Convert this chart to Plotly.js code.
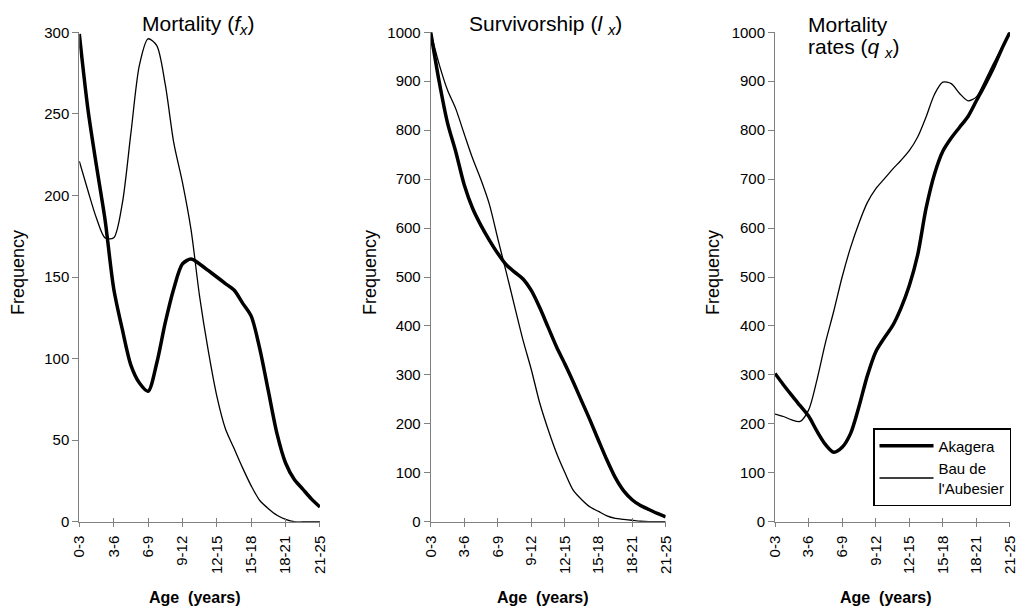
<!DOCTYPE html>
<html>
<head>
<meta charset="utf-8">
<script src="https://cdn.plot.ly/plotly-3.0.1.min.js"></script>
<style>
html,body{margin:0;padding:0;background:#fff;}
#chart{width:1018px;height:609px;}
</style>
</head>
<body>
<div id="chart"></div>
<script>
// Age classes (tick labels) and the age-class index grid the curves are sampled on
var ageClasses = ["0-3","3-6","6-9","9-12","12-15","15-18","18-21","21-25"];
var ageIndex = [0,0.25,0.5,0.75,1,1.25,1.5,1.75,2,2.25,2.5,2.75,3,3.25,3.5,3.75,4,4.25,4.5,4.75,5,5.25,5.5,5.75,6,6.25,6.5,6.75,7];

// Mortality (f_x)
var fxAkagera = [299,253,218,185,143,118,96,85,80,97,122,143,158,161,158,154,150,146,142,134,126,106,80,54,36,26,20,14,9];
var fxBau     = [221,203,186,174,174,195,238,280,296,292,268,232,208,179,138,105,77,57,45,33,22,13,8,4,1.5,0,0,0,0];

// Survivorship (l_x)
var lxAkagera = [1000,900,815,755,688,640,605,575,548,525,510,496,472,437,397,357,322,285,246,207,166,126,90,63,45,33,25,17,10];
var lxBau     = [1000,935,882,843,792,742,698,648,578,510,440,371,310,242,188,140,100,64,45,30,21,12,7,5,3,1,0,0,0];

// Mortality rates (q_x)
var qxAkagera = [303,280,258,237,216,185,158,142,152,180,235,298,347,375,400,436,482,545,640,710,757,784,806,828,860,892,926,965,1000];
var qxBau     = [220,215,208,205,228,290,365,430,500,560,610,652,680,700,720,738,758,786,827,873,898,895,875,860,868,900,935,968,1000];

var seriesNames = ["Akagera","Bau de<br>l'Aubesier"];

var thick = {color:'#000', width:3.5, shape:'spline', smoothing:0.8};
var thin  = {color:'#000', width:1.3, shape:'spline', smoothing:0.8};

var panels = [
  {ak: fxAkagera, bau: fxBau, xa:'x',  ya:'y'},
  {ak: lxAkagera, bau: lxBau, xa:'x2', ya:'y2'},
  {ak: qxAkagera, bau: qxBau, xa:'x3', ya:'y3'}
];

var data = [];
panels.forEach(function(p, i){
  data.push({x: ageIndex, y: p.ak, xaxis:p.xa, yaxis:p.ya, mode:'lines', line:thick,
             name: seriesNames[0], showlegend: i===2, legendrank:1, hoverinfo:'skip'});
  data.push({x: ageIndex, y: p.bau, xaxis:p.xa, yaxis:p.ya, mode:'lines', line:thin,
             name: seriesNames[1], showlegend: i===2, legendrank:2, hoverinfo:'skip'});
});
// invisible traces for overlay tick axes (upper half of the cross ticks)
['x4','x5','x6'].forEach(function(xa, i){
  data.push({x:[], y:[], xaxis:xa, yaxis:['y','y2','y3'][i], mode:'lines', showlegend:false, hoverinfo:'skip'});
});

var tickVals = ageClasses.map(function(_, i){ return i; });
var F = 'Liberation Sans, Arial, sans-serif';
var gray = '#808080';

function xAxis(domain, extra){
  var a = {domain: domain, range:[0,7], tickmode:'array', tickvals: tickVals, ticktext: ageClasses,
    tickangle:-90, ticks:'outside', ticklen:4, tickcolor:gray, tickwidth:1, ticklabelstandoff:3,
    showline:true, linecolor:gray, linewidth:1, showgrid:false, zeroline:false,
    tickfont:{family:F, size:15, color:'#000'}, fixedrange:true};
  for (var k in extra) a[k] = extra[k];
  return a;
}
function xOver(domain, ov, anchor){
  return {domain: domain, range:[0,7], overlaying: ov, anchor: anchor, tickmode:'array', tickvals: tickVals,
    showticklabels:false, ticks:'inside', ticklen:4, tickcolor:gray, tickwidth:1,
    showline:false, showgrid:false, zeroline:false, fixedrange:true};
}
function yAxis(range, dtick, anchor){
  return {domain:[0.1433, 0.947], range: range, dtick: dtick, anchor: anchor,
    ticks:'outside', ticklen:6, tickcolor:gray, tickwidth:1,
    showline:true, linecolor:gray, linewidth:1, showgrid:false, zeroline:false,
    tickfont:{family:F, size:15, color:'#000'}, fixedrange:true};
}

var d1 = [0.0779, 0.3143], d2 = [0.4231, 0.6539], d3 = [0.7613, 0.9921];

function ann(text, x, y, size, extra){
  var a = {text:text, xref:'paper', yref:'paper', x:x/1018, y:1-y/609, xanchor:'center', yanchor:'middle',
           showarrow:false, font:{family:F, size:size, color:'#000'}};
  for (var k in extra) a[k] = extra[k];
  return a;
}

var layout = {
  width:1018, height:609,
  margin:{l:0, r:0, t:0, b:0},
  paper_bgcolor:'#fff', plot_bgcolor:'#fff',
  showlegend:true,
  legend:{x:873/1018, y:1-428/609, xanchor:'left', yanchor:'top',
    bordercolor:'#000', borderwidth:1.5, bgcolor:'#fff',
    font:{family:F, size:15, color:'#000'}, tracegroupgap:2, itemwidth:54},
  xaxis: xAxis(d1, {anchor:'y'}),
  xaxis2: xAxis(d2, {anchor:'y2'}),
  xaxis3: xAxis(d3, {anchor:'y3'}),
  xaxis4: xOver(d1, 'x', 'y'),
  xaxis5: xOver(d2, 'x2', 'y2'),
  xaxis6: xOver(d3, 'x3', 'y3'),
  yaxis: yAxis([0,300], 50, 'x'),
  yaxis2: yAxis([0,1000], 100, 'x2'),
  yaxis3: yAxis([0,1000], 100, 'x3'),
  annotations: [
    ann('Mortality (<i>f</i><sub><i>x</i></sub>)', 198, 25, 21),
    ann('Survivorship (<i>l</i> <sub><i>x</i></sub>)', 545, 25, 21),
    ann('Mortality', 806, 25, 21, {xanchor:'left'}),
    ann('rates (<i>q</i> <sub><i>x</i></sub>)', 806, 48, 21, {xanchor:'left'}),
    ann('Frequency', 18, 273, 18, {textangle:-90}),
    ann('Frequency', 370, 273, 18, {textangle:-90}),
    ann('Frequency', 713, 273, 18, {textangle:-90}),
    ann('<b>Age  (years)</b>', 195, 597, 16),
    ann('<b>Age  (years)</b>', 543, 597, 16),
    ann('<b>Age  (years)</b>', 886, 597, 16)
  ]
};

Plotly.newPlot('chart', data, layout, {displayModeBar:false, staticPlot:true});
</script>
</body>
</html>
